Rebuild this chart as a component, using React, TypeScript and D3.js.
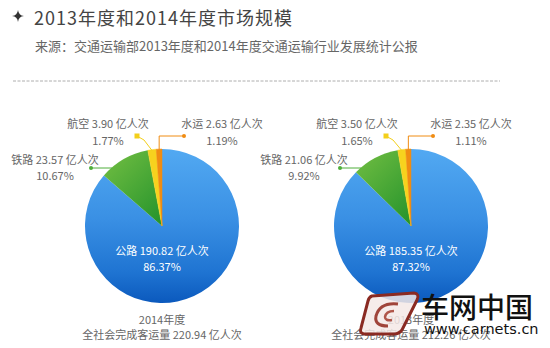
import React from "react";
import * as d3 from "d3";

const categories = ["公路", "铁路", "航空", "水运"];
const values2014 = [190.82, 23.57, 3.9, 2.63];
const pct2014 = ["86.37%", "10.67%", "1.77%", "1.19%"];
const values2013 = [185.35, 21.06, 3.5, 2.35];
const pct2013 = ["87.32%", "9.92%", "1.65%", "1.11%"];
const years = ["2014年度", "2013年度"];
const totals = ["220.94", "212.26"];

const FONT = "'Noto Sans CJK SC', 'Noto Sans', sans-serif";
const LABEL = "#666";
const R = 77;

type PieProps = { id: string; cx: number; cy: number; values: number[]; pcts: string[]; year: string; total: string };

function Pie({ id, cx, cy, values, pcts, year, total }: PieProps) {
  const pie = d3.pie<number>().sort(null).value((d) => d);
  const arcs = pie(values);
  const arc = d3.arc<d3.PieArcDatum<number>>().innerRadius(0).outerRadius(R);
  const fills = [`url(#blue-${id})`, `url(#green-${id})`, "#f7d21e", "#f08c12"];
  const strokes = ["none", "none", "#f7d21e", "#f08c12"];
  const edge = (a: number, r = R) => [cx + r * Math.sin(a), cy - r * Math.cos(a)];
  const mid = (d: d3.PieArcDatum<number>) => (d.startAngle + d.endAngle) / 2;

  const ry = cy - 58;
  const rx = cx - Math.sqrt(R * R - 58 * 58) + 1;
  const air = edge(mid(arcs[2]), R - 1);
  const water = edge(mid(arcs[3]), R - 1);
  const topY = cy - R - 13;

  return (
    <g fontFamily={FONT}>
      <defs>
        <linearGradient id={`blue-${id}`} gradientUnits="userSpaceOnUse" x1={0} y1={-R} x2={0} y2={R}>
          <stop offset="0" stopColor="#52a9f2" />
          <stop offset="0.45" stopColor="#3a90e4" />
          <stop offset="0.8" stopColor="#1f74d2" />
          <stop offset="1" stopColor="#0b59bd" />
        </linearGradient>
        <linearGradient id={`green-${id}`} gradientUnits="userSpaceOnUse" x1={-R} y1={-R} x2={0} y2={0}>
          <stop offset="0" stopColor="#80c646" />
          <stop offset="1" stopColor="#23922b" />
        </linearGradient>
      </defs>
      {arcs.map((d, i) => (
        <path key={i} d={arc(d) || ""} transform={`translate(${cx},${cy})`} fill={fills[i]} stroke={strokes[i]} strokeWidth={0.5} />
      ))}
      <polyline points={`${rx},${ry} ${cx - 71},${ry}`} fill="none" stroke="#4fae3a" strokeWidth={1} />
      <circle cx={cx - 71} cy={ry} r={2} fill="#4fae3a" />
      <polyline points={`${air[0]},${air[1]} ${cx - 18},${topY + 4} ${cx - 25},${topY}`} fill="none" stroke="#f3cf1a" strokeWidth={1} />
      <rect x={cx - 27.5} y={topY - 2.5} width={5} height={5} fill="#f3cf1a" />
      <polyline points={`${water[0]},${water[1]} ${water[0]},${topY} ${cx + 22},${topY}`} fill="none" stroke="#f08c12" strokeWidth={1} />
      <circle cx={cx + 22} cy={topY} r={2} fill="#f08c12" />

      <g fontSize={11} fill={LABEL} textAnchor="middle">
        <text x={cx - 107} y={164}>{`${categories[1]} ${values[1].toFixed(2)} 亿人次`}</text>
        <text x={cx - 107} y={180}>{pcts[1]}</text>
        <text x={cx - 54} y={128}>{`${categories[2]} ${values[2].toFixed(2)} 亿人次`}</text>
        <text x={cx - 54} y={145}>{pcts[2]}</text>
        <text x={cx + 60} y={128}>{`${categories[3]} ${values[3].toFixed(2)} 亿人次`}</text>
        <text x={cx + 60} y={145}>{pcts[3]}</text>
        <text x={cx} y={255} fill="#fff">{`${categories[0]} ${values[0].toFixed(2)} 亿人次`}</text>
        <text x={cx} y={271} fill="#fff">{pcts[0]}</text>
        <text x={cx} y={324}>{year}</text>
        <text x={cx} y={339}>{`全社会完成客运量 ${total} 亿人次`}</text>
      </g>
    </g>
  );
}

export default function App() {
  return (
    <svg width={550} height={348} style={{ position: "absolute", left: 0, top: 0, background: "#fff" }}>
      <rect width={550} height={348} fill="#fff" />
      <path d="M18,10 Q18.6,15.4 24,16 Q18.6,16.6 18,22 Q17.4,16.6 12,16 Q17.4,15.4 18,10 Z" fill="#333" />
      <text x={34} y={25} fontFamily={FONT} fontSize={18} fill="#444" letterSpacing={1}>2013年度和2014年度市场规模</text>
      <text x={35} y={51} fontFamily={FONT} fontSize={13} fill="#666">来源：交通运输部2013年度和2014年度交通运输行业发展统计公报</text>
      <line x1={13} x2={500} y1={81} y2={81} stroke="#999" strokeWidth={0.8} strokeDasharray="3,1.5" />

      <Pie id="a" cx={162} cy={226} values={values2014} pcts={pct2014} year={years[0]} total={totals[0]} />
      <Pie id="b" cx={411} cy={226} values={values2013} pcts={pct2013} year={years[1]} total={totals[1]} />

      <g>
        <path d="M372,296 L414,293 Q420,294 417,300 L402,330 Q399,334 394,334 L364,334 Q359,333 361,328 L368,301 Q369,297 372,296 Z" fill="#f4e9e6" fillOpacity={0.85} stroke="#8a2a22" strokeWidth={3} />
        <path d="M398,304 Q380,302 376,316 Q374,326 388,326" fill="none" stroke="#a0443a" strokeWidth={3} />
        <path d="M394,311 Q386,311 385,317 Q385,321 392,320" fill="none" stroke="#b0564a" strokeWidth={2.5} />
        <text x={421} y={318} fontFamily={FONT} fontSize={28} fill="#111" fontWeight={500}>车网中国</text>
        <text x={424} y={334} fontFamily="'DejaVu Sans', sans-serif" fontSize={14.5} fill="#111">www.carnets.cn</text>
      </g>
    </svg>
  );
}
